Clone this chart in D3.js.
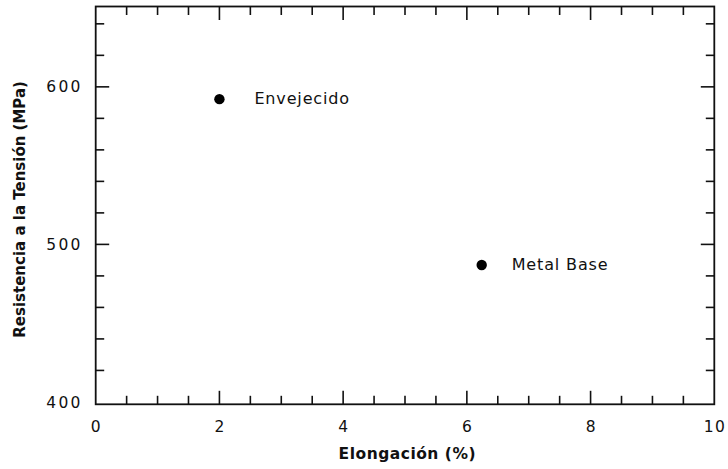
<!DOCTYPE html>
<html>
<head>
<meta charset="utf-8">
<script src="https://cdn.jsdelivr.net/npm/d3@7"></script>
<style>
  html, body { margin: 0; padding: 0; background: #fff; }
  svg { display: block; }
  text { font-family: "DejaVu Sans", Verdana, sans-serif; fill: #111; }
</style>
</head>
<body>
<svg id="chart" width="728" height="469"></svg>
<script>
const labels = ["Envejecido", "Metal Base"];
const elongation = [2.0, 6.24];
const strength = [592.2, 486.9];
const xTickLabels = [0, 2, 4, 6, 8, 10];
const yTickLabels = [400, 500, 600];

(function () {
const pLeft = 95.7, pRight = 714.3, pTop = 6.5, pBottom = 404.3;

const svg = d3.select("#chart");
const x = d3.scaleLinear().domain([0, 10]).range([pLeft, pRight]);
const y = d3.scaleLinear().domain([398.5, 651]).range([pBottom, pTop]);

const xMinor = d3.range(0, 10.001, 0.5).filter(v => v % 2 !== 0);
const yMinor = d3.range(400, 641, 20).filter(v => v % 100 !== 0);
const xMajorAll = [0, 2, 4, 6, 8, 10];
const yMajorAll = [400, 500, 600];

const majLen = 13.5, minLen = 8.5;
const g = svg.append("g").attr("stroke", "#111").attr("stroke-width", 1.6);

function xTicks(vals, len, y0, dir) {
  g.selectAll(null).data(vals).enter().append("line")
    .attr("x1", d => x(d)).attr("x2", d => x(d))
    .attr("y1", y0).attr("y2", y0 + dir * len);
}
function yTicks(vals, len, x0, dir) {
  g.selectAll(null).data(vals).enter().append("line")
    .attr("y1", d => y(d)).attr("y2", d => y(d))
    .attr("x1", x0).attr("x2", x0 + dir * len);
}
xTicks(xMinor, minLen, pBottom, -1);
xTicks(xMajorAll.filter(v => v > 0 && v < 10), majLen, pBottom, -1);
xTicks(xMinor, minLen, pTop, 1);
xTicks(xMajorAll.filter(v => v > 0 && v < 10), majLen, pTop, 1);
yTicks(yMinor, minLen, pLeft, 1);
yTicks(yMajorAll.filter(v => v > 400), majLen, pLeft, 1);
yTicks(yMinor, minLen, pRight, -1);
yTicks(yMajorAll.filter(v => v > 400), majLen, pRight, -1);

svg.append("rect")
  .attr("x", pLeft).attr("y", pTop)
  .attr("width", pRight - pLeft).attr("height", pBottom - pTop)
  .attr("fill", "none").attr("stroke", "#111").attr("stroke-width", 1.8);

const xls = 1.2;
svg.selectAll(".xl").data(xTickLabels).enter().append("text")
  .attr("x", d => x(d) + xls / 2).attr("y", 432)
  .attr("text-anchor", "middle").attr("font-size", 15.5)
  .style("letter-spacing", xls + "px")
  .text(d => d);
const yls = 2.3;
svg.selectAll(".yl").data(yTickLabels).enter().append("text")
  .attr("x", 80.5 + yls).attr("y", d => y(d)).attr("dy", "0.36em")
  .attr("text-anchor", "end").attr("font-size", 15.5)
  .style("letter-spacing", yls + "px")
  .text(d => d);

svg.append("text")
  .attr("x", 407.3).attr("y", 459)
  .attr("text-anchor", "middle").attr("font-size", 15.5).attr("font-weight", "bold")
  .style("letter-spacing", "0.5px")
  .text("Elongación (%)");
svg.append("text")
  .attr("transform", `translate(25,${(pTop + pBottom) / 2 + 4}) rotate(-90)`)
  .attr("text-anchor", "middle").attr("font-size", 15).attr("font-weight", "bold")
  .text("Resistencia a la Tensión (MPa)");

const labelGap = [35, 30];
const pts = labels.map((l, i) => ({ l, x: elongation[i], y: strength[i], gap: labelGap[i] }));
svg.selectAll(".pt").data(pts).enter().append("circle")
  .attr("cx", d => x(d.x)).attr("cy", d => y(d.y)).attr("r", 5.2)
  .attr("fill", "#000");
svg.selectAll(".pl").data(pts).enter().append("text")
  .attr("x", d => x(d.x) + d.gap).attr("y", d => y(d.y)).attr("dy", "0.33em")
  .attr("font-size", 16)
  .style("letter-spacing", "0.85px")
  .text(d => d.l);
})();
</script>
</body>
</html>
